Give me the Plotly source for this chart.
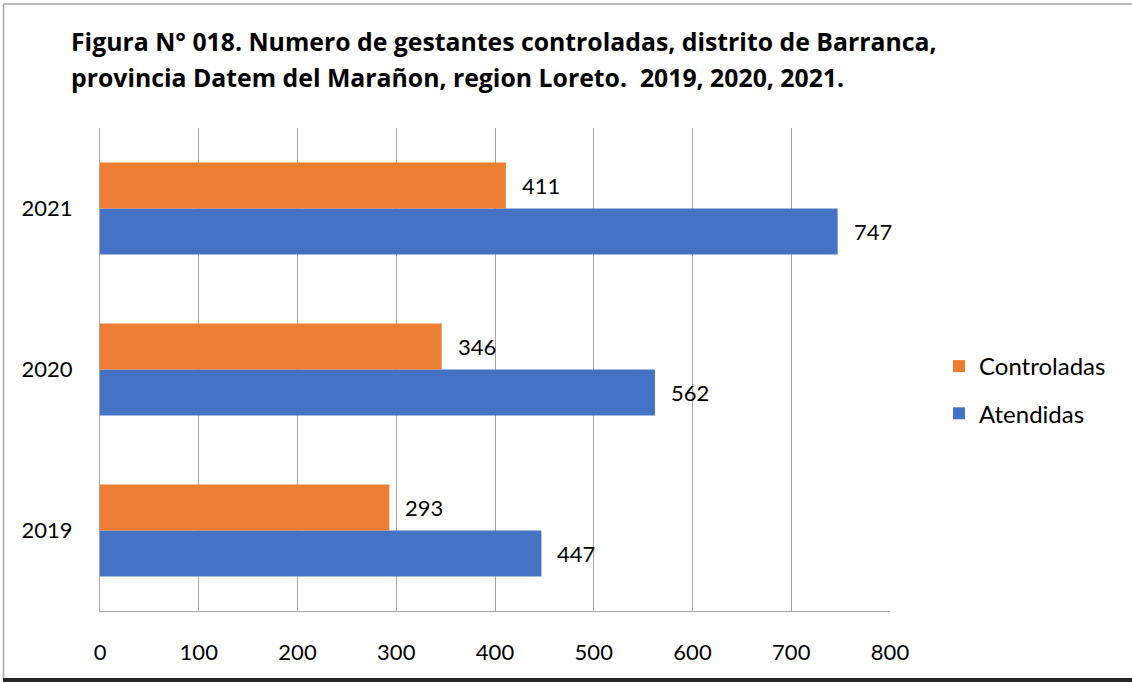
import plotly.graph_objects as go

years = ["2019", "2020", "2021"]
atendidas = [447, 562, 747]
controladas = [293, 346, 411]
x_ticks = [0, 100, 200, 300, 400, 500, 600, 700, 800]
title_lines = [
    "Figura N° 018. Numero de gestantes controladas, distrito de Barranca,",
    "provincia Datem del Marañon, region Loreto.  2019, 2020, 2021.",
]

W, H = 1132, 682
L, R, T, B = 100, 890, 128, 611
FONT = "Lato"
BARGAP = 0.43


def px(xp):
    return (xp - L) / (R - L)


def py(yp):
    return (B - yp) / (B - T)


fig = go.Figure()
fig.add_trace(go.Bar(y=years, x=atendidas, orientation="h", name="Atendidas",
                     marker=dict(color="#4472C4", line=dict(width=0)),
                     legendgroup="a", legendrank=2))
fig.add_trace(go.Bar(y=years, x=controladas, orientation="h", name="Controladas",
                     marker=dict(color="#ED7D31", line=dict(width=0)),
                     legendgroup="c", legendrank=1))

off = (1 - BARGAP) / 4
ann = []
for i, (a, c) in enumerate(zip(atendidas, controladas)):
    ann.append(dict(x=a, y=i - off, xref="x", yref="y", text=str(a), showarrow=False,
                    xanchor="left", xshift=14, font=dict(family=FONT, size=22, color="#000")))
    ann.append(dict(x=c, y=i + off, xref="x", yref="y", text=str(c), showarrow=False,
                    xanchor="left", xshift=14, font=dict(family=FONT, size=22, color="#000")))

for k, (line, yc) in enumerate(zip(title_lines, [41, 77])):
    ann.append(dict(x=px(69), y=py(yc), xref="paper", yref="paper", text="<b>" + line + "</b>",
                    showarrow=False, xanchor="left", yanchor="middle",
                    font=dict(family="Open Sans", size=24.8, color="#000")))

shapes = [
    dict(type="line", xref="paper", yref="paper", x0=px(3.5), x1=px(W), y0=py(4), y1=py(4),
         line=dict(color="#A6A6A6", width=1.5)),
    dict(type="line", xref="paper", yref="paper", x0=px(3.5), x1=px(3.5), y0=py(4), y1=py(679),
         line=dict(color="#A6A6A6", width=1.5)),
    dict(type="line", xref="paper", yref="paper", x0=px(3), x1=px(W), y0=py(680), y1=py(680),
         line=dict(color="#262626", width=4)),
]

fig.update_layout(
    width=W, height=H,
    margin=dict(l=L, r=W - R, t=T, b=H - B, pad=0),
    paper_bgcolor="white", plot_bgcolor="white",
    barmode="group", bargap=BARGAP, bargroupgap=0,
    font=dict(family=FONT, size=22, color="#000"),
    annotations=ann, shapes=shapes,
    showlegend=True,
    legend=dict(x=px(939), y=py(344), xanchor="left", yanchor="top",
                traceorder="grouped", tracegroupgap=13,
                font=dict(family=FONT, size=24, color="#000"),
                bgcolor="rgba(0,0,0,0)"),
    xaxis=dict(range=[0, 800], tickvals=x_ticks, showgrid=True, gridcolor="#A6A6A6",
               gridwidth=1, zeroline=False, showline=True, linecolor="#A6A6A6", linewidth=1,
               ticks="", ticklabelstandoff=22, fixedrange=True),
    yaxis=dict(type="category", categoryorder="array", categoryarray=years,
               range=[-0.5, 2.5], showgrid=False, zeroline=False, showline=True,
               linecolor="#A6A6A6", linewidth=1, ticks="", ticklabelstandoff=22,
               fixedrange=True),
)

fig.write_html("out.html", config={"displayModeBar": False},
               post_script="document.body.style.margin='0';")
